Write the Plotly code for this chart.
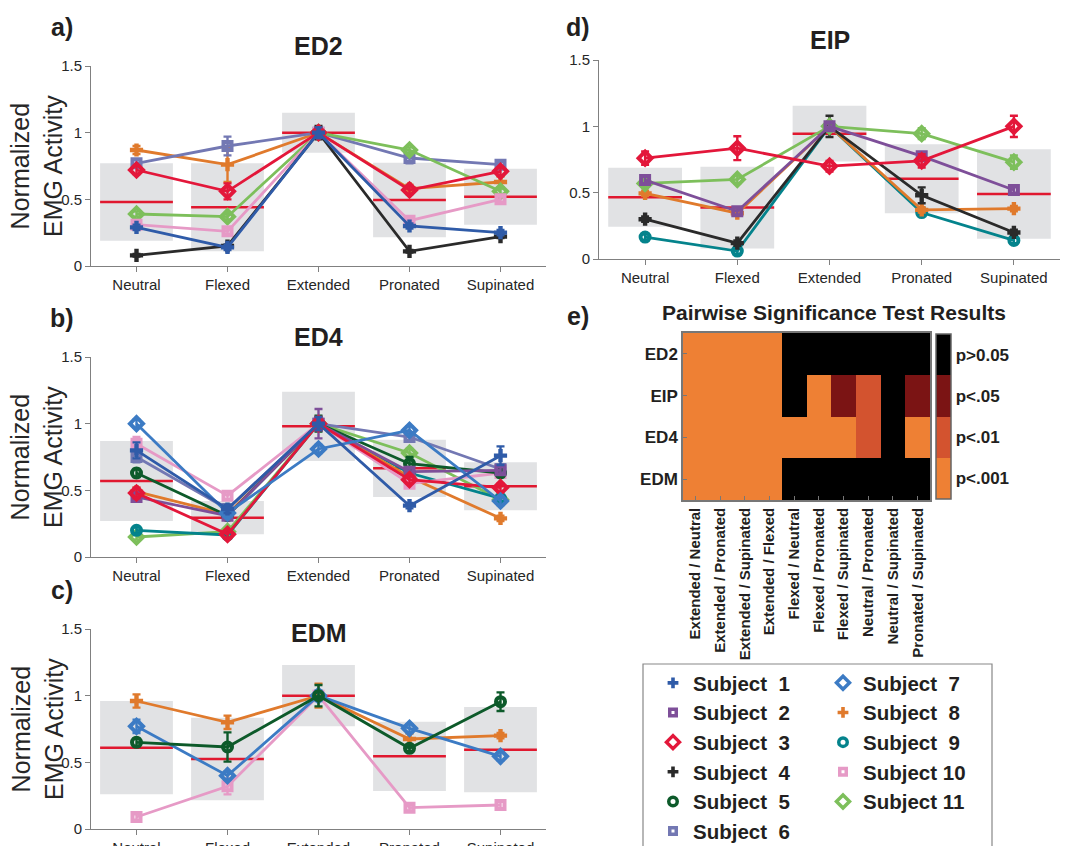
import plotly.graph_objects as go

W, H = 1073, 846
FONT = "Liberation Sans, Arial, Helvetica, sans-serif"
TEXT = "#262626"

POSTURES = ["Neutral", "Flexed", "Extended", "Pronated", "Supinated"]
Y_TICKS = [0, 0.5, 1, 1.5]
Y_TICK_LABELS = ["0", "0.5", "1", "1.5"]

SUBJECT_COLORS = {1: "#2f5ba8", 2: "#7e4f99", 3: "#e3173a", 4: "#2a2a2a", 5: "#0d5a2a",
                  6: "#7378b3", 7: "#3c7bc4", 8: "#e07a2c", 9: "#04838c", 10: "#e69ac6",
                  11: "#7dbf5b"}
SUBJECT_SYMBOLS = {1: "cross", 2: "square-open", 3: "diamond-open", 4: "cross",
                   5: "circle-open", 6: "square-open", 7: "diamond-open", 8: "cross",
                   9: "circle-open", 10: "square-open", 11: "diamond-open"}

# ---------------- ED2 ----------------
ED2_VALUES = {
    8: [0.87, 0.76, 1.00, 0.58, 0.63],
    6: [0.77, 0.90, 1.00, 0.81, 0.76],
    11: [0.39, 0.37, 1.00, 0.87, 0.56],
    10: [0.31, 0.26, 1.00, 0.34, 0.50],
    4: [0.08, 0.15, 1.00, 0.11, 0.22],
    3: [0.72, 0.56, 1.00, 0.57, 0.71],
    1: [0.29, 0.14, 1.00, 0.30, 0.25],
}
ED2_ERRORS = {
    8: [0.03, 0.13, 0.02, 0.03, 0.04],
    6: [0.03, 0.07, 0.02, 0.04, 0.02],
    11: [0.02, 0.02, 0.02, 0.02, 0.02],
    10: [0.02, 0.02, 0.02, 0.02, 0.02],
    4: [0.01, 0.01, 0.05, 0.01, 0.01],
    3: [0.03, 0.06, 0.03, 0.03, 0.03],
    1: [0.02, 0.02, 0.04, 0.02, 0.02],
}
ED2_MEAN = [0.48, 0.44, 1.00, 0.495, 0.52]
ED2_SPREAD = [0.29, 0.33, 0.15, 0.28, 0.21]

# ---------------- ED4 ----------------
ED4_VALUES = {
    11: [0.15, 0.19, 1.00, 0.78, 0.43],
    9: [0.20, 0.165, 1.00, 0.63, 0.44],
    8: [0.49, 0.32, 1.00, 0.60, 0.29],
    10: [0.85, 0.46, 1.00, 0.55, 0.63],
    6: [0.75, 0.36, 1.00, 0.90, 0.66],
    5: [0.63, 0.31, 1.00, 0.70, 0.63],
    2: [0.45, 0.31, 1.00, 0.64, 0.65],
    3: [0.48, 0.17, 1.00, 0.58, 0.52],
    7: [1.00, 0.33, 0.81, 0.95, 0.42],
    1: [0.80, 0.36, 1.00, 0.385, 0.76],
}
ED4_ERRORS = {
    11: [0.02, 0.02, 0.03, 0.03, 0.02],
    9: [0.02, 0.02, 0.03, 0.02, 0.02],
    8: [0.03, 0.02, 0.04, 0.02, 0.02],
    10: [0.05, 0.03, 0.05, 0.03, 0.02],
    6: [0.04, 0.03, 0.05, 0.03, 0.02],
    5: [0.03, 0.03, 0.06, 0.05, 0.03],
    2: [0.03, 0.03, 0.11, 0.03, 0.03],
    3: [0.04, 0.03, 0.05, 0.03, 0.03],
    7: [0.03, 0.03, 0.03, 0.03, 0.03],
    1: [0.06, 0.03, 0.05, 0.02, 0.07],
}
ED4_MEAN = [0.57, 0.295, 0.98, 0.665, 0.53]
ED4_SPREAD = [0.30, 0.125, 0.26, 0.215, 0.18]

# ---------------- EDM ----------------
EDM_VALUES = {
    10: [0.09, 0.32, 1.00, 0.16, 0.18],
    8: [0.96, 0.80, 1.00, 0.675, 0.70],
    7: [0.77, 0.40, 1.00, 0.755, 0.545],
    5: [0.65, 0.615, 1.00, 0.605, 0.955],
}
EDM_ERRORS = {
    10: [0.02, 0.06, 0.02, 0.02, 0.03],
    8: [0.05, 0.05, 0.09, 0.04, 0.02],
    7: [0.05, 0.03, 0.04, 0.03, 0.03],
    5: [0.03, 0.11, 0.08, 0.02, 0.07],
}
EDM_MEAN = [0.61, 0.525, 1.00, 0.545, 0.595]
EDM_SPREAD = [0.35, 0.31, 0.23, 0.26, 0.32]

# ---------------- EIP ----------------
EIP_VALUES = {
    9: [0.165, 0.06, 1.00, 0.35, 0.14],
    8: [0.495, 0.345, 1.00, 0.37, 0.38],
    4: [0.30, 0.12, 1.00, 0.48, 0.20],
    11: [0.57, 0.60, 1.00, 0.945, 0.73],
    2: [0.595, 0.36, 1.00, 0.775, 0.52],
    3: [0.76, 0.835, 0.70, 0.74, 1.00],
}
EIP_ERRORS = {
    9: [0.02, 0.02, 0.03, 0.02, 0.02],
    8: [0.02, 0.02, 0.03, 0.02, 0.02],
    4: [0.02, 0.02, 0.08, 0.06, 0.02],
    11: [0.02, 0.03, 0.03, 0.04, 0.05],
    2: [0.03, 0.03, 0.03, 0.03, 0.02],
    3: [0.05, 0.09, 0.04, 0.05, 0.08],
}
EIP_MEAN = [0.466, 0.388, 0.945, 0.605, 0.49]
EIP_SPREAD = [0.222, 0.308, 0.21, 0.26, 0.337]

# ---------------- Significance heatmap ----------------
MUSCLES = ["ED2", "EIP", "ED4", "EDM"]
PAIRS = ["Extended / Neutral", "Extended / Pronated", "Extended / Supinated",
         "Extended / Flexed", "Flexed / Neutral", "Flexed / Pronated",
         "Flexed / Supinated", "Neutral / Pronated", "Neutral / Supinated",
         "Pronated / Supinated"]
# 0: p<.001, 1: p<.01, 2: p<.05, 3: p>0.05
SIG_LEVELS = [
    [0, 0, 0, 0, 3, 3, 3, 3, 3, 3],
    [0, 0, 0, 0, 3, 0, 2, 1, 3, 2],
    [0, 0, 0, 0, 0, 0, 0, 1, 3, 0],
    [0, 0, 0, 0, 3, 3, 3, 3, 3, 3],
]
SIG_LABELS = ["p<.001", "p<.01", "p<.05", "p>0.05"]
SIG_COLORS = ["#ee8034", "#d3532f", "#7b1414", "#000000"]

LEGEND_COL1 = [1, 2, 3, 4, 5, 6]
LEGEND_COL2 = [7, 8, 9, 10, 11]


def px_x(p):
    return p / W


def px_y(p):
    return 1 - p / H


PANELS = [
    ("ED2", ED2_VALUES, ED2_ERRORS, ED2_MEAN, ED2_SPREAD, "x", "y", (91, 546, 66, 266), True),
    ("ED4", ED4_VALUES, ED4_ERRORS, ED4_MEAN, ED4_SPREAD, "x2", "y2", (91, 546, 357, 557), True),
    ("EDM", EDM_VALUES, EDM_ERRORS, EDM_MEAN, EDM_SPREAD, "x3", "y3", (91, 546, 629, 829), True),
    ("EIP", EIP_VALUES, EIP_ERRORS, EIP_MEAN, EIP_SPREAD, "x4", "y4", (599, 1060, 60, 259), False),
]

fig = go.Figure()
shapes = []
annotations = []
layout_axes = {}

xpos = list(range(1, len(POSTURES) + 1))

for name, vals, errs, mean, spread, xa, ya, (x0, x1, yt, yb), ytitle in PANELS:
    for i, (m, s) in enumerate(zip(mean, spread)):
        shapes.append(dict(type="rect", xref=xa, yref=ya, x0=xpos[i] - 0.4, x1=xpos[i] + 0.4,
                           y0=m - s, y1=m + s, fillcolor="#e1e2e4", line=dict(width=0),
                           layer="below"))
    for i, m in enumerate(mean):
        shapes.append(dict(type="line", xref=xa, yref=ya, x0=xpos[i] - 0.4, x1=xpos[i] + 0.4,
                           y0=m, y1=m, line=dict(color="#e0182f", width=2.5), layer="below"))
    for subj, v in vals.items():
        sym = SUBJECT_SYMBOLS[subj]
        col = SUBJECT_COLORS[subj]
        if sym == "cross":
            size, lw = 11, 0
        elif sym.startswith("diamond"):
            size, lw = 10, 4
        elif sym.startswith("circle"):
            size, lw = 9, 4
        else:
            size, lw = 8, 4
        fig.add_trace(go.Scatter(
            x=xpos, y=v, mode="lines+markers",
            line=dict(color=col, width=2.8),
            marker=dict(symbol=sym, size=size, color=col, line=dict(color=col, width=lw)),
            error_y=dict(type="data", array=errs[subj], color=col, thickness=2.4, width=4),
            xaxis=xa, yaxis=ya, showlegend=False, hoverinfo="skip"))
    xkey = "xaxis" if xa == "x" else "xaxis" + xa[1:]
    ykey = "yaxis" if ya == "y" else "yaxis" + ya[1:]
    layout_axes[xkey] = dict(domain=[px_x(x0), px_x(x1)], anchor=ya, range=[0.5, 5.5],
                             tickvals=xpos, ticktext=POSTURES, showline=True,
                             linecolor="#808080", linewidth=1, ticks="outside", ticklen=5,
                             tickcolor="#808080", showgrid=False, zeroline=False,
                             tickfont=dict(size=15, color=TEXT, family=FONT), fixedrange=True,
                             automargin=False)
    layout_axes[ykey] = dict(domain=[px_y(yb), px_y(yt)], anchor=xa, range=[0, 1.5],
                             tickvals=Y_TICKS, ticktext=Y_TICK_LABELS, showline=True,
                             linecolor="#808080", linewidth=1, ticks="outside", ticklen=5,
                             tickcolor="#808080", showgrid=False, zeroline=False,
                             tickfont=dict(size=15, color=TEXT, family=FONT), fixedrange=True,
                             automargin=False)
    annotations.append(dict(text=f"<b>{name}</b>", xref="paper", yref="paper",
                            x=px_x((x0 + x1) / 2), y=px_y(yt - 20 if name != "EDM" else yt + 4),
                            showarrow=False, font=dict(size=25, color="#231f20", family=FONT),
                            xanchor="center", yanchor="middle"))
    if ytitle:
        annotations.append(dict(text="Normalized<br>EMG Activity", xref="paper", yref="paper",
                                x=px_x(37), y=px_y((yt + yb) / 2), textangle=-90,
                                showarrow=False, font=dict(size=25, color=TEXT, family=FONT),
                                xanchor="center", yanchor="middle"))

for letter, (lx, ly) in {"a)": (62, 27), "b)": (62, 318), "c)": (62, 590),
                         "d)": (578, 27), "e)": (578, 316)}.items():
    annotations.append(dict(text=f"<b>{letter}</b>", xref="paper", yref="paper",
                            x=px_x(lx), y=px_y(ly), showarrow=False,
                            font=dict(size=25, color="#231f20", family=FONT),
                            xanchor="center", yanchor="middle"))

n = len(SIG_COLORS)
colorscale = []
for k, c in enumerate(SIG_COLORS):
    colorscale.append([k / n, c])
    colorscale.append([(k + 1) / n, c])

fig.add_trace(go.Heatmap(
    z=SIG_LEVELS, x=PAIRS, y=MUSCLES, colorscale=colorscale, zmin=-0.5, zmax=n - 0.5,
    xaxis="x5", yaxis="y5", hoverinfo="skip",
    colorbar=dict(x=px_x(936), xanchor="left", xpad=0, ypad=0, thickness=15,
                  thicknessmode="pixels", len=165 / H, lenmode="fraction",
                  y=px_y(416.5), yanchor="middle", outlinewidth=1.5, outlinecolor="#666",
                  tickvals=list(range(n)), ticktext=SIG_LABELS, ticks="",
                  tickfont=dict(size=17, color="#231f20", family=FONT, weight="bold"))))
layout_axes["xaxis5"] = dict(domain=[px_x(683), px_x(930)], anchor="y5", showline=True,
                             mirror=True, linecolor="#777", linewidth=1.5, ticks="inside",
                             ticklen=4, tickcolor="#777", tickangle=-90, showgrid=False,
                             tickfont=dict(size=15, color="#231f20", family=FONT, weight="bold"),
                             fixedrange=True, automargin=False)
layout_axes["yaxis5"] = dict(domain=[px_y(500), px_y(333)], anchor="x5", showline=True,
                             mirror=True, linecolor="#777", linewidth=1.5, ticks="inside",
                             ticklen=4, tickcolor="#777", autorange="reversed", showgrid=False,
                             tickfont=dict(size=17, color="#231f20", family=FONT, weight="bold"),
                             fixedrange=True, automargin=False)
annotations.append(dict(text="<b>Pairwise Significance Test Results</b>", xref="paper",
                        yref="paper", x=px_x(834), y=px_y(313), showarrow=False,
                        font=dict(size=21, color="#231f20", family=FONT),
                        xanchor="center", yanchor="middle"))

for group, legend_id in ((LEGEND_COL1, "legend"), (LEGEND_COL2, "legend2")):
    for subj in group:
        sym = SUBJECT_SYMBOLS[subj]
        col = SUBJECT_COLORS[subj]
        if sym == "cross":
            size, lw = 9, 0
        elif sym.startswith("diamond"):
            size, lw = 10, 3.5
        elif sym.startswith("circle"):
            size, lw = 8.5, 3.5
        else:
            size, lw = 6.5, 3.5
        label = f"Subject\u00a0 {subj}" if subj < 10 else f"Subject {subj}"
        fig.add_trace(go.Scatter(
            x=[None], y=[None], mode="markers", name=label,
            marker=dict(symbol=sym, size=size, color=col, line=dict(color=col, width=lw)),
            legend=legend_id, xaxis="x", yaxis="y", showlegend=True))

legend_common = dict(xanchor="left", yanchor="top", bgcolor="rgba(0,0,0,0)", borderwidth=0,
                     font=dict(size=20.5, color="#231f20", family=FONT, weight="bold"),
                     itemsizing="trace", tracegroupgap=0, orientation="v")
shapes.append(dict(type="rect", xref="paper", yref="paper", x0=px_x(643), x1=px_x(992),
                   y0=-0.05, y1=px_y(664), line=dict(color="#888", width=1.2),
                   fillcolor="rgba(0,0,0,0)", layer="above"))

fig.update_layout(
    width=W, height=H, margin=dict(l=0, r=0, t=0, b=0, pad=0, autoexpand=False),
    paper_bgcolor="white", plot_bgcolor="white",
    font=dict(family=FONT, color=TEXT),
    shapes=shapes, annotations=annotations,
    legend=dict(x=px_x(653), y=px_y(663), **legend_common),
    legend2=dict(x=px_x(823), y=px_y(663), **legend_common),
    **layout_axes,
)

fig.write_html("out.html", config={"displayModeBar": False},
               post_script="document.body.style.margin='0';document.body.style.overflow='hidden';")
